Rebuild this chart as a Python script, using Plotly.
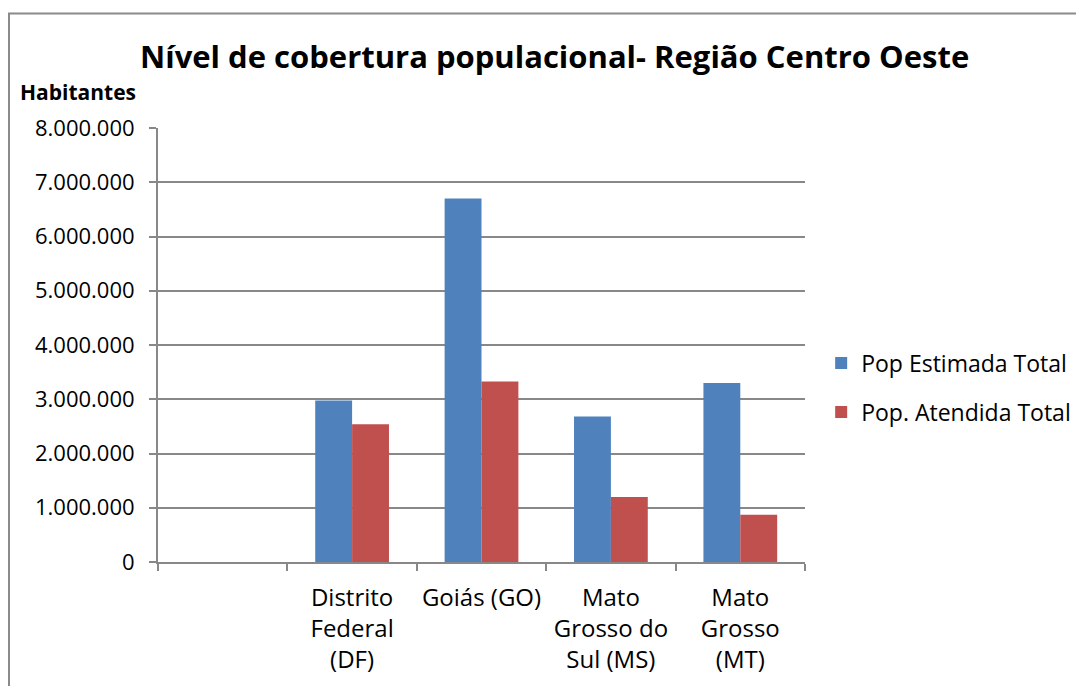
import plotly.graph_objects as go

# categories (the first one is empty in the original chart)
categories = [" ", "Distrito<br>Federal<br>(DF)", "Goiás (GO)",
              "Mato<br>Grosso do<br>Sul (MS)", "Mato<br>Grosso<br>(MT)"]
pop_estimada = [None, 2977000, 6700000, 2680000, 3300000]
pop_atendida = [None, 2540000, 3327000, 1196000, 869000]

y_ticks = [0, 1000000, 2000000, 3000000, 4000000, 5000000, 6000000, 7000000, 8000000]

BLUE = "#4F81BD"
RED = "#C0504D"
GRID = "#888888"
FONT = "Open Sans, Noto Sans, sans-serif"

fig = go.Figure()

fig.add_trace(
    go.Bar(
        x=categories,
        y=pop_estimada,
        name="Pop Estimada Total",
        marker=dict(color=BLUE, line=dict(width=0)),
        legendgroup="a",
    )
)
fig.add_trace(
    go.Bar(
        x=categories,
        y=pop_atendida,
        name="Pop. Atendida Total",
        marker=dict(color=RED, line=dict(width=0)),
        legendgroup="b",
    )
)

fig.update_layout(
    width=1076,
    height=678,
    paper_bgcolor="white",
    plot_bgcolor="white",
    separators=",.",
    barmode="group",
    bargap=0.43,
    bargroupgap=0,
    margin=dict(l=150, r=279, t=120, b=124, autoexpand=False),
    font=dict(family=FONT, size=22, color="black"),
    title=dict(
        text="<b>Nível de cobertura populacional- Região Centro Oeste</b>",
        x=0.508,
        xanchor="center",
        y=0.928,
        yanchor="middle",
        font=dict(family=FONT, size=31, color="black"),
    ),
    xaxis=dict(
        type="category",
        categoryorder="array",
        categoryarray=categories,
        range=[-0.5, 4.5],
        showgrid=False,
        showline=True,
        linecolor=GRID,
        linewidth=2,
        ticks="outside",
        tickson="boundaries",
        ticklen=7,
        tickwidth=1.5,
        tickcolor=GRID,
        tickangle=0,
        tickfont=dict(size=24),
        ticklabelstandoff=13,
        automargin=False,
    ),
    yaxis=dict(
        range=[0, 8000000],
        tickvals=y_ticks,
        tickformat=",d",
        showgrid=True,
        gridcolor=GRID,
        gridwidth=2,
        showline=True,
        linecolor=GRID,
        linewidth=2,
        ticks="outside",
        ticklen=7,
        tickwidth=1.5,
        tickcolor=GRID,
        tickfont=dict(size=22),
        ticklabelstandoff=10,
        zeroline=False,
        automargin=False,
    ),
    legend=dict(
        x=1.025,
        xanchor="left",
        y=0.402,
        yanchor="middle",
        traceorder="grouped",
        tracegroupgap=16,
        font=dict(size=23),
        bgcolor="rgba(0,0,0,0)",
    ),
    annotations=[
        dict(
            text="<b>Habitantes</b>",
            xref="paper",
            yref="paper",
            x=-0.2164,
            y=1.083,
            xanchor="left",
            yanchor="middle",
            showarrow=False,
            font=dict(family=FONT, size=21, color="black"),
        )
    ],
    shapes=[
        dict(
            type="rect",
            xref="paper",
            yref="paper",
            x0=-0.2303,
            x1=1.48,
            y0=-0.35,
            y1=1.264,
            line=dict(color="#8A8A8A", width=2),
            fillcolor="rgba(0,0,0,0)",
            layer="below",
        )
    ],
)

fig.write_html("out.html")
